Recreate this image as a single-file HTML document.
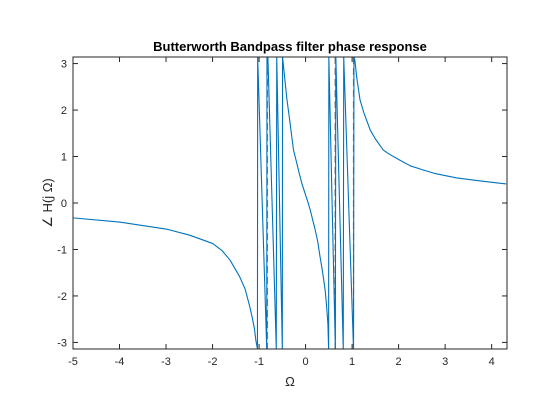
<!DOCTYPE html>
<html><head><meta charset="utf-8"><style>
html,body{margin:0;padding:0;background:#fff;}
svg{display:block;font-family:"Liberation Sans",Arial,sans-serif;}
</style></head><body>
<svg id="chart" width="560" height="420" viewBox="0 0 560 420" xmlns="http://www.w3.org/2000/svg">
<rect width="560" height="420" fill="#fff"/>
<text x="290" y="51" text-anchor="middle" font-size="13" font-weight="bold" fill="#000">Butterworth Bandpass filter phase response</text>
<g id="plot"></g>
<text x="290" y="386" text-anchor="middle" font-size="13" fill="#262626">Ω</text>
<text transform="translate(52,203) rotate(-90)" text-anchor="middle" font-size="13" fill="#262626">∠ H(j Ω)</text>
</svg>
<script>
const xTicks = [-5,-4,-3,-2,-1,0,1,2,3,4];
const yTicks = [-3,-2,-1,0,1,2,3];
const phaseX = [-5,-4,-3,-2.5,-2,-1.8,-1.63,-1.42,-1.3,-1.2,-1.15,-1.1,-1.07,-1.035,-1.03,-0.835,-0.83,-0.81,-0.63,-0.62,-0.50,-0.495,-0.47,-0.44,-0.40,-0.35,-0.30,-0.26,-0.2,-0.14,-0.08,0,0.05,0.10,0.2,0.26,0.31,0.36,0.42,0.45,0.48,0.495,0.50,0.64,0.65,0.81,0.82,1.03,1.04,1.06,1.1,1.17,1.25,1.39,1.5,1.67,1.8,2.03,2.25,2.53,2.8,3.25,3.8,4.31];
const phaseY = [-0.32,-0.41,-0.56,-0.69,-0.87,-1.02,-1.22,-1.58,-1.85,-2.23,-2.45,-2.7,-2.95,-3.14,3.14,-3.14,3.14,3.14,-3.14,3.14,-3.14,3.14,2.9,2.6,2.22,1.85,1.45,1.14,0.9,0.65,0.42,0.17,0.02,-0.15,-0.55,-0.82,-1.15,-1.45,-1.87,-2.2,-2.6,-3.14,3.14,-3.14,3.14,-3.14,3.14,-3.14,3.14,3.07,2.7,2.22,1.95,1.57,1.38,1.14,1.05,0.92,0.8,0.71,0.63,0.54,0.47,0.41];
const cutoffs = [-0.82,0.635,1.03];
const xMin=-5, xMax=4.33, yMin=-Math.PI, yMax=Math.PI;
const L=73, R=507, T=57, B=349;
const sx = v => L + (v - xMin) / (xMax - xMin) * (R - L);
const sy = v => B - (v - yMin) / (yMax - yMin) * (B - T);
const NS="http://www.w3.org/2000/svg";
const g=document.getElementById('plot');
function mk(tag, attrs){const e=document.createElementNS(NS,tag);for(const k in attrs)e.setAttribute(k,attrs[k]);g.appendChild(e);return e;}
const defs=mk('defs',{});
const cp=document.createElementNS(NS,'clipPath');cp.setAttribute('id','clip');
const cr=document.createElementNS(NS,'rect');cr.setAttribute('x',L);cr.setAttribute('y',T);cr.setAttribute('width',R-L);cr.setAttribute('height',B-T);
cp.appendChild(cr);defs.appendChild(cp);
const bg=mk('rect',{x:L,y:T,width:R-L,height:B-T,fill:'#fff'});


cutoffs.forEach(c=>{
  const l=mk('line',{x1:sx(c),x2:sx(c),y1:T,y2:B,stroke:'#808080','stroke-width':1.2,'stroke-dasharray':'7,4','clip-path':'url(#clip)'});
  
  
});
let d='';
phaseX.forEach((x,i)=>{d+=(i?'L':'M')+sx(x).toFixed(2)+','+sy(phaseY[i]).toFixed(2);});
const p=mk('path',{d:d,fill:'none',stroke:'#0072BD','stroke-width':1.1,'stroke-linejoin':'round','clip-path':'url(#clip)'});


const box=mk('rect',{x:L,y:T,width:R-L,height:B-T,fill:'none',stroke:'#262626','stroke-width':1});


xTicks.forEach(t=>{
  const x=sx(t);
  const a=mk('line',{x1:x,x2:x,y1:B,y2:B-5,stroke:'#262626'});
  
  
  const b=mk('line',{x1:x,x2:x,y1:T,y2:T+5,stroke:'#262626'});
  
  
  const tx=mk('text',{x:x,y:B+16,'text-anchor':'middle','font-size':11,fill:'#262626'});
  tx.textContent=t;
  
  
});
yTicks.forEach(t=>{
  const y=sy(t);
  const a=mk('line',{x1:L,x2:L+5,y1:y,y2:y,stroke:'#262626'});
  
  
  const b=mk('line',{x1:R,x2:R-5,y1:y,y2:y,stroke:'#262626'});
  
  
  const tx=mk('text',{x:L-6,y:y+4,'text-anchor':'end','font-size':11,fill:'#262626'});
  tx.textContent=t;
  
  
});
</script>
</body></html>
